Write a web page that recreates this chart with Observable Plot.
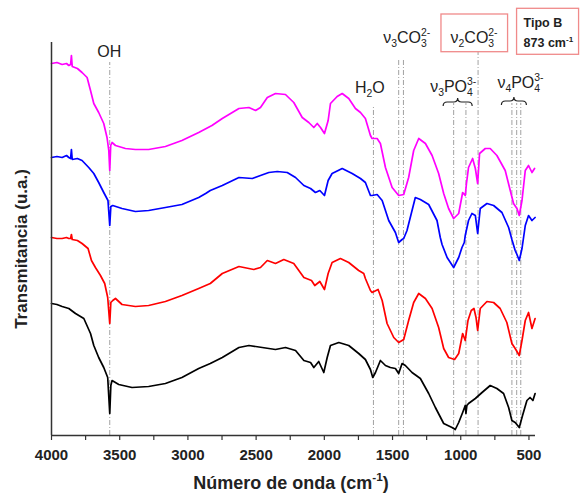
<!DOCTYPE html>
<html><head><meta charset="utf-8">
<script src="https://cdn.jsdelivr.net/npm/d3@7"></script>
<script src="https://cdn.jsdelivr.net/npm/@observablehq/plot@0.6"></script>
<style>
body{margin:0;background:#fff;}
svg{font-family:"Liberation Sans",Arial,sans-serif;}
g[aria-label="x-axis tick label"]{font-weight:bold;}
</style>
</head><body><div id="chart"></div>
<script>
// Wavenumber (cm-1), transmittance (arbitrary units, stacked spectra)
const magenta = [[4000,372],[3960,373],[3922,371],[3890,372],[3873,370],[3860,371],[3854,380],[3848,369],[3810,367],[3776,363],[3739,358],[3714,345],[3690,332],[3654,323],[3617,312],[3593,298],[3580,285],[3573,265],[3566,290],[3556,293],[3531,290],[3458,287],[3385,286],[3288,286],[3165,289],[3044,295],[2921,303],[2824,310],[2748,317],[2626,327],[2553,328],[2504,325],[2468,328],[2418,338],[2358,342],[2285,341],[2224,333],[2162,318],[2114,313],[2077,308],[2052,312],[2028,308],[1999,302],[1972,315],[1955,332],[1906,339],[1869,342],[1821,337],[1772,327],[1735,323],[1699,317],[1662,300],[1650,297],[1613,297],[1589,292],[1552,268],[1503,248],[1455,240],[1418,241],[1382,258],[1345,285],[1308,297],[1259,292],[1210,280],[1162,262],[1125,242],[1089,227],[1052,217],[1015,222],[986,243],[967,240],[958,252],[943,268],[913,277],[893,267],[876,252],[862,282],[820,287],[784,287],[735,280],[674,265],[637,245],[613,232],[588,227],[571,220],[551,235],[527,265],[503,270],[478,263],[459,267]];
const blue = [[4000,278],[3960,279],[3922,278],[3890,280],[3873,278],[3860,277],[3854,286],[3848,276],[3810,277],[3776,275],[3727,268],[3690,262],[3654,253],[3617,243],[3586,235],[3573,210],[3565,229],[3551,230],[3483,227],[3385,224],[3288,225],[3165,228],[3044,231],[2921,238],[2870,242],[2836,245],[2748,250],[2626,258],[2528,257],[2468,260],[2407,263],[2345,264],[2272,263],[2211,258],[2150,250],[2101,247],[2065,243],[2033,245],[1999,240],[1972,255],[1943,262],[1869,267],[1796,262],[1735,257],[1699,253],[1662,240],[1650,240],[1613,241],[1576,235],[1528,215],[1479,203],[1455,193],[1430,196],[1418,197],[1394,205],[1333,238],[1296,236],[1235,231],[1174,215],[1150,198],[1137,191],[1100,178],[1052,168],[1015,178],[991,188],[974,193],[967,200],[943,215],[918,222],[893,220],[876,202],[857,227],[808,232],[759,230],[698,223],[649,208],[625,196],[601,185],[588,181],[571,175],[551,187],[527,210],[503,220],[478,215],[455,218]];
const red = [[4000,198],[3960,197],[3922,197],[3890,198],[3873,197],[3860,197],[3854,201],[3848,196],[3810,195],[3776,192],[3732,187],[3707,175],[3678,168],[3641,160],[3610,152],[3588,138],[3573,112],[3565,133],[3551,135],[3531,137],[3483,131],[3385,129],[3288,130],[3165,134],[3044,140],[2921,147],[2836,152],[2748,162],[2626,169],[2517,166],[2468,168],[2418,175],[2358,172],[2297,176],[2224,172],[2150,158],[2094,155],[2070,150],[2033,154],[1999,146],[1972,162],[1943,173],[1882,177],[1821,173],[1748,165],[1711,162],[1699,157],[1662,145],[1650,143],[1606,146],[1576,135],[1540,112],[1491,98],[1455,93],[1418,96],[1382,115],[1345,133],[1308,142],[1259,137],[1210,127],[1162,108],[1125,87],[1089,78],[1045,76],[1015,82],[986,102],[967,95],[947,115],[923,125],[903,127],[888,118],[876,105],[857,127],[808,134],[759,133],[711,127],[662,113],[625,92],[601,87],[571,80],[551,95],[527,115],[503,123],[478,107],[455,117]];
const black = [[4000,132],[3960,131],[3922,129],[3873,127],[3824,122],[3763,117],[3714,102],[3690,90],[3654,78],[3617,68],[3588,58],[3573,22],[3565,50],[3556,55],[3507,51],[3410,48],[3288,49],[3165,52],[3044,58],[2921,67],[2870,70],[2836,72],[2748,78],[2626,88],[2553,90],[2455,88],[2358,86],[2285,88],[2211,85],[2150,75],[2101,73],[2077,68],[2041,74],[2004,63],[1979,78],[1955,90],[1894,93],[1821,90],[1748,82],[1699,76],[1662,66],[1645,58],[1625,63],[1589,75],[1552,70],[1516,68],[1479,67],[1455,62],[1430,72],[1406,70],[1357,63],[1296,57],[1235,42],[1186,28],[1125,12],[1064,8],[1040,6],[1015,13],[986,23],[967,30],[962,22],[955,30],[943,32],[893,37],[844,43],[784,50],[735,47],[686,42],[649,28],[625,15],[601,13],[571,8],[547,20],[515,35],[492,38],[471,35],[455,42]];

const seriesColors = ["#000000","#ff0000","#0000ff","#ff00ff"];

// Band marker lines (cm-1) and the level where each dashed line starts
const bandLines = [3573,1640,1455,1420,1052,962,873,625,590,560];
const bandTops  = [373,329,375,375,332,332,383,332,332,332];

const xTickLabels = [4000,3500,3000,2500,2000,1500,1000,500];
const xMinorTicks = [3750,3250,2750,2250,1750,1250,750];

const chart = Plot.plot({
  width: 580, height: 496,
  marginLeft: 51, marginRight: 45, marginTop: 42, marginBottom: 61,
  style: {fontFamily: "Liberation Sans, Arial, sans-serif", background: "#fff", overflow: "visible"},
  x: {domain: [4000, 452]},
  y: {domain: [0, 393], axis: null},
  marks: [
    Plot.ruleX(bandLines, {x: d => d, y1: 0, y2: (d, i) => bandTops[i], stroke: "#8a8a8a", strokeWidth: 0.8, strokeDasharray: "5,2,1,2"}),
    Plot.line(black,   {x: d => d[0], y: d => d[1], stroke: seriesColors[0], strokeWidth: 1.7}),
    Plot.line(red,     {x: d => d[0], y: d => d[1], stroke: seriesColors[1], strokeWidth: 1.7}),
    Plot.line(blue,    {x: d => d[0], y: d => d[1], stroke: seriesColors[2], strokeWidth: 1.7}),
    Plot.line(magenta, {x: d => d[0], y: d => d[1], stroke: seriesColors[3], strokeWidth: 1.7}),
    Plot.axisX(xMinorTicks, {tickSize: 5, tickFormat: () => "", label: null, stroke: "#333", strokeWidth: 1.2}),
    Plot.axisX(xTickLabels, {tickSize: 5, tickPadding: 9, label: null, tickFormat: d3.format("d"), fontSize: 15, fontWeight: "bold", fill: "#222", stroke: "#333", strokeWidth: 1.2}),
    Plot.ruleY([0], {stroke: "#333", strokeWidth: 1.5}),
    Plot.ruleX([4000], {y1: 0, y2: 393, stroke: "#333", strokeWidth: 1.5})
  ]
});
document.getElementById("chart").appendChild(chart);

// Annotations
const sx = chart.scale("x");
const px = w => sx.apply(w);
const svg = d3.select(chart);
const g = svg.append("g").attr("font-family", "Liberation Sans, Arial, sans-serif").attr("fill", "#222");

function rich(x, y, parts, size = 16, anchor = "start", weight = "normal", parent = g) {
  const t = parent.append("text").attr("x", x).attr("y", y).attr("font-size", size)
    .attr("text-anchor", anchor).attr("font-weight", weight);
  let cur = 0;
  for (const p of parts) {
    const s = t.append("tspan").text(p.t);
    const target = p.sub ? size * 0.27 : p.sup ? -size * 0.42 : 0;
    s.attr("dy", target - cur); cur = target;
    if (p.sub || p.sup) s.attr("font-size", size * 0.65);
    if (p.dx) s.attr("dx", p.dx);
  }
  return t;
}
function brace(x1, x2, yTop) {
  const xm = (x1 + x2) / 2, yb = yTop + 8, ym = yTop + 4;
  g.append("path")
    .attr("d", `M${x1},${yb} Q${x1},${ym} ${x1+4},${ym} L${xm-4},${ym} Q${xm},${ym} ${xm},${yTop} Q${xm},${ym} ${xm+4},${ym} L${x2-4},${ym} Q${x2},${ym} ${x2},${yb}`)
    .attr("fill", "none").attr("stroke", "#222").attr("stroke-width", 1.2);
}

rich(px(3573), 57, [{t: "OH"}], 16, "middle");
rich(px(1640) - 18, 93, [{t: "H"}, {t: "2", sub: true}, {t: "O"}]);
rich(px(1455) - 15, 43, [{t: "ν"}, {t: "3", sub: true}, {t: "CO"}, {t: "3", sub: true}, {t: "2-", sup: true, dx: -5.8}]);
rich(px(873) - 27, 43, [{t: "ν"}, {t: "2", sub: true}, {t: "CO"}, {t: "3", sub: true}, {t: "2-", sup: true, dx: -5.8}]);
rich(px(1052) - 23, 92, [{t: "ν"}, {t: "3", sub: true}, {t: "PO"}, {t: "4", sub: true}, {t: "3-", sup: true, dx: -5.8}]);
rich(px(625) - 14, 88, [{t: "ν"}, {t: "4", sub: true}, {t: "PO"}, {t: "4", sub: true}, {t: "3-", sup: true, dx: -5.8}]);
brace(px(1052) - 10, px(1052) + 19, 98);
brace(px(625) - 10, px(625) + 15, 97);

g.append("rect").attr("x", px(873) - 36.6).attr("y", 14).attr("width", 66.6).attr("height", 37.7)
  .attr("fill", "none").attr("stroke", "#f08a8a").attr("stroke-width", 1.3);
g.append("rect").attr("x", px(873) + 39).attr("y", 8.3).attr("width", 62).attr("height", 46)
  .attr("fill", "none").attr("stroke", "#f08a8a").attr("stroke-width", 1.3);
rich(px(873) + 46, 27, [{t: "Tipo B"}], 12.5, "start", "bold");
rich(px(873) + 46, 47, [{t: "873 cm"}, {t: "-1", sup: true}], 12.5, "start", "bold");

// Axis titles
rich(291, 489, [{t: "Número de onda (cm"}, {t: "-1", sup: true}, {t: ")"}], 18, "middle", "bold");
const yl = g.append("g").attr("transform", "translate(27,249) rotate(-90)");
rich(0, 0, [{t: "Transmitancia (u.a.)"}], 17, "middle", "bold", yl);
</script>
</body></html>
